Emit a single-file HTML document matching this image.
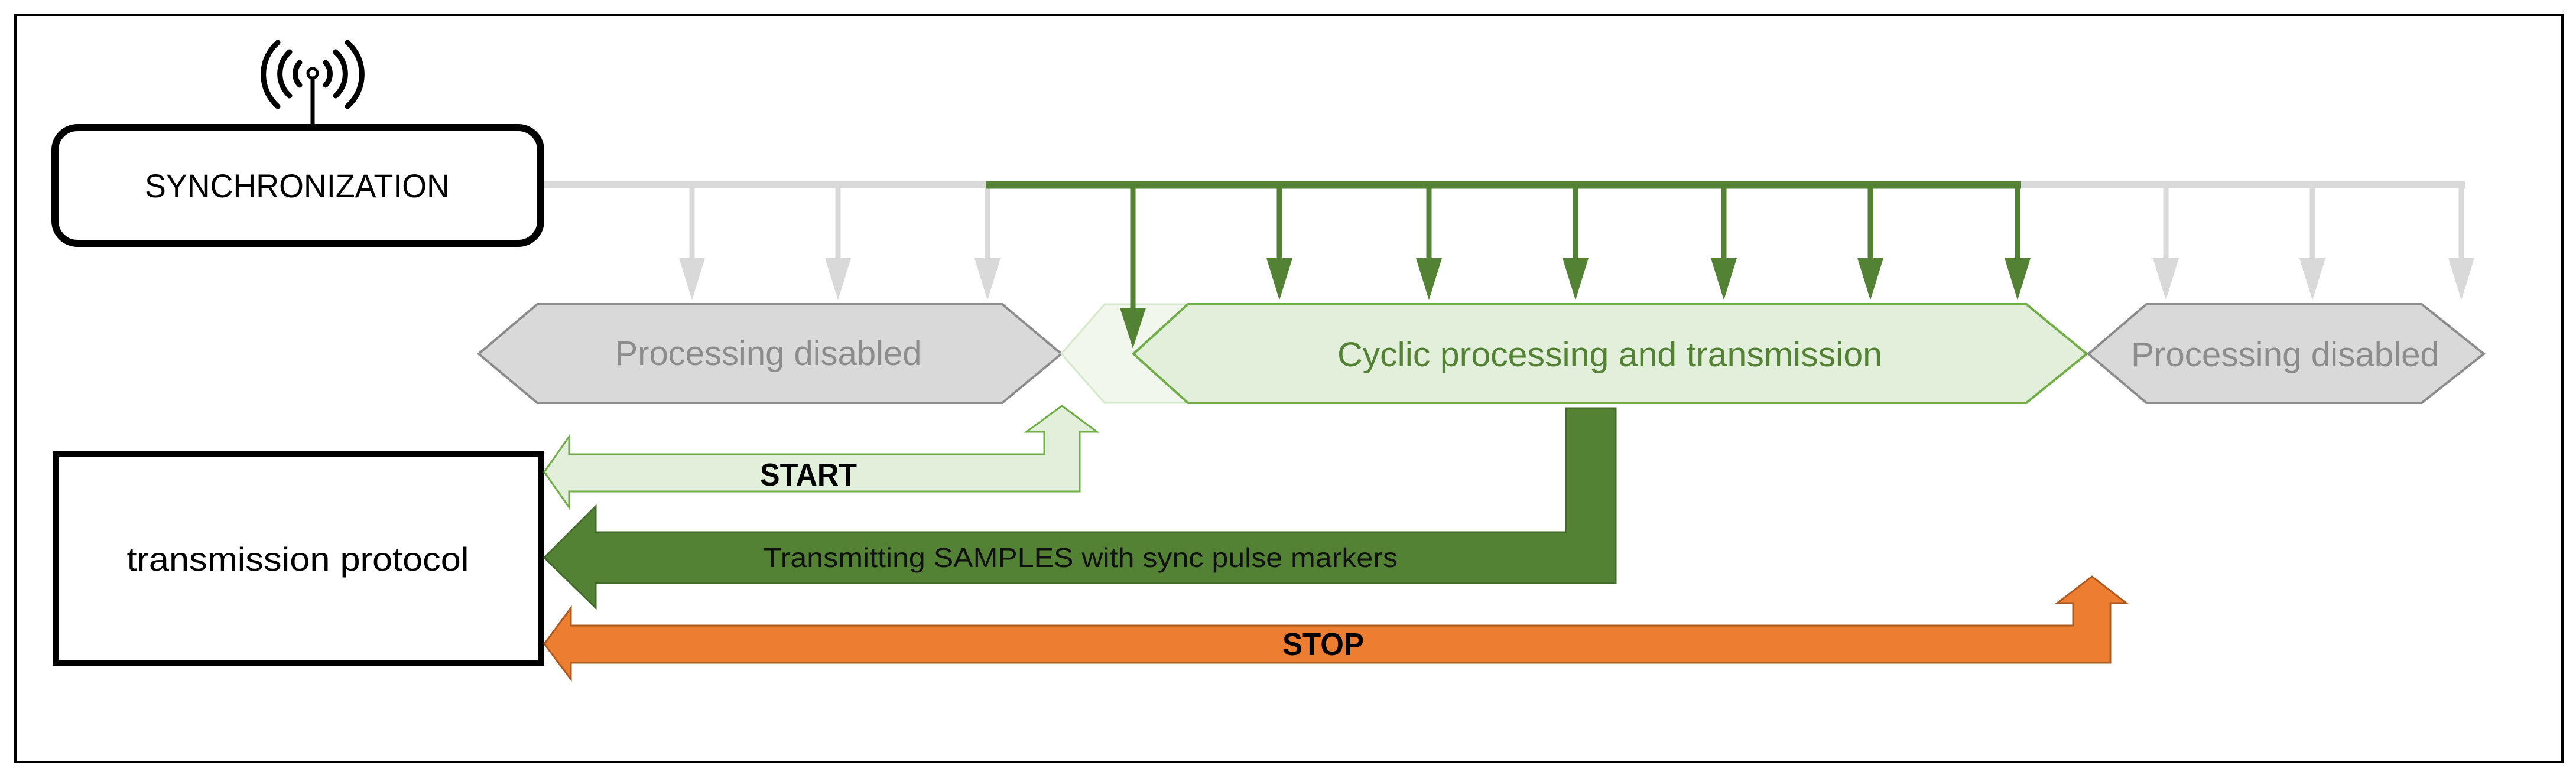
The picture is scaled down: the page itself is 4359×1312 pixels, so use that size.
<!DOCTYPE html>
<html><head><meta charset="utf-8"><style>html,body{margin:0;padding:0;background:#fff}svg{display:block}</style></head>
<body>
<svg width="4359" height="1312" viewBox="0 0 4359 1312" xmlns="http://www.w3.org/2000/svg" font-family="'Liberation Sans', sans-serif">
<rect x="0" y="0" width="4359" height="1312" fill="#fff"/>
<rect x="26" y="25" width="4310" height="1265" fill="none" stroke="#000" stroke-width="4"/>

<!-- antenna -->
<g stroke="#000" fill="none" stroke-width="9" stroke-linecap="round">
<line x1="529" y1="134" x2="529" y2="212" stroke-width="7"/>
<circle cx="529" cy="124" r="8" stroke-width="5"/>
<path d="M507 106 A28 28 0 0 0 507 144"/>
<path d="M551 106 A28 28 0 0 1 551 144"/>
<path d="M490 88 A50 50 0 0 0 490 162"/>
<path d="M568 88 A50 50 0 0 1 568 162"/>
<path d="M470 72 A72 72 0 0 0 470 180"/>
<path d="M588 72 A72 72 0 0 1 588 180"/>
</g>

<!-- sync box -->
<rect x="93" y="216" width="822" height="196" rx="38" fill="#fff" stroke="#000" stroke-width="12"/>
<text x="503" y="334" font-size="56" text-anchor="middle" textLength="516" lengthAdjust="spacingAndGlyphs">SYNCHRONIZATION</text>

<!-- transmission protocol box -->
<rect x="94" y="768" width="822" height="354" fill="#fff" stroke="#000" stroke-width="10"/>
<text x="504" y="966" font-size="56" text-anchor="middle" textLength="579" lengthAdjust="spacingAndGlyphs">transmission protocol</text>

<!-- sync lines -->
<line x1="921" y1="313" x2="1672" y2="313" stroke="#d9d9d9" stroke-width="12"/>
<line x1="3420" y1="313" x2="4171" y2="313" stroke="#d9d9d9" stroke-width="12"/>
<g stroke="#d9d9d9" stroke-width="9">
<line x1="1171" y1="313" x2="1171" y2="440"/><line x1="1418" y1="313" x2="1418" y2="440"/><line x1="1671" y1="313" x2="1671" y2="440"/>
<line x1="3665" y1="313" x2="3665" y2="440"/><line x1="3913" y1="313" x2="3913" y2="440"/><line x1="4165" y1="313" x2="4165" y2="440"/>
</g>
<g fill="#d9d9d9">
<polygon points="1149,437 1193,437 1171,508"/><polygon points="1396,437 1440,437 1418,508"/><polygon points="1649,437 1693,437 1671,508"/>
<polygon points="3643,437 3687,437 3665,508"/><polygon points="3891,437 3935,437 3913,508"/><polygon points="4143,437 4187,437 4165,508"/>
</g>

<!-- hexagons -->
<polygon points="810,599 909,515 1696,515 1796,599 1696,682 909,682" fill="#d9d9d9" stroke="#8c8c8c" stroke-width="4"/>
<text x="1300" y="618" font-size="58" fill="#8c8c8c" text-anchor="middle" textLength="519" lengthAdjust="spacingAndGlyphs">Processing disabled</text>
<polygon points="1796,599 1869,515 2010,515 2010,682 1869,682" fill="#f1f7ed" stroke="#d5e8c9" stroke-width="3"/>
<polygon points="1918,599 2010,515 3429,515 3531,599 3429,682 2010,682" fill="#e2efda" stroke="#70ad47" stroke-width="4"/>
<text x="2724" y="620" font-size="58" fill="#548235" text-anchor="middle" textLength="922" lengthAdjust="spacingAndGlyphs">Cyclic processing and transmission</text>
<polygon points="3534,599 3632,515 4098,515 4203,599 4098,682 3632,682" fill="#d9d9d9" stroke="#8c8c8c" stroke-width="4"/>
<text x="3867" y="620" font-size="58" fill="#8c8c8c" text-anchor="middle" textLength="522" lengthAdjust="spacingAndGlyphs">Processing disabled</text>

<!-- green sync -->
<line x1="1668" y1="313" x2="3420" y2="313" stroke="#548235" stroke-width="13"/>
<g stroke="#548235" stroke-width="9">
<line x1="1917" y1="313" x2="1917" y2="525"/>
<line x1="2165" y1="313" x2="2165" y2="440"/><line x1="2418" y1="313" x2="2418" y2="440"/><line x1="2666" y1="313" x2="2666" y2="440"/>
<line x1="2917" y1="313" x2="2917" y2="440"/><line x1="3165" y1="313" x2="3165" y2="440"/><line x1="3414" y1="313" x2="3414" y2="440"/>
</g>
<g fill="#548235">
<polygon points="1895,521 1939,521 1917,590"/>
<polygon points="2143,437 2187,437 2165,508"/><polygon points="2396,437 2440,437 2418,508"/><polygon points="2644,437 2688,437 2666,508"/>
<polygon points="2895,437 2939,437 2917,508"/><polygon points="3143,437 3187,437 3165,508"/><polygon points="3392,437 3436,437 3414,508"/>
</g>

<!-- START arrow -->
<polygon points="921,799 963,739 963,769 1767,769 1767,731 1737,731 1797,687 1856,731 1827,731 1827,832 963,832 963,859" fill="#e2efda" stroke="#70ad47" stroke-width="3"/>
<text x="1368" y="822" font-size="54" font-weight="bold" text-anchor="middle" textLength="164" lengthAdjust="spacingAndGlyphs">START</text>

<!-- samples arrow -->
<polygon points="921,944 1008,857 1008,901 2650,901 2650,691 2734,691 2734,987 1008,987 1008,1029" fill="#548235" stroke="#426a2a" stroke-width="3"/>
<text x="1292" y="960" font-size="46" fill="#111" textLength="1073" lengthAdjust="spacingAndGlyphs">Transmitting SAMPLES with sync pulse markers</text>

<!-- STOP arrow -->
<polygon points="921,1090 966,1029 966,1059 3508,1059 3508,1021 3481,1021 3540,976 3598,1021 3571,1021 3571,1122 966,1122 966,1150" fill="#ed7d31" stroke="#ae5a21" stroke-width="3"/>
<text x="2239" y="1109" font-size="54" font-weight="bold" text-anchor="middle" textLength="138" lengthAdjust="spacingAndGlyphs">STOP</text>
</svg>
</body></html>
